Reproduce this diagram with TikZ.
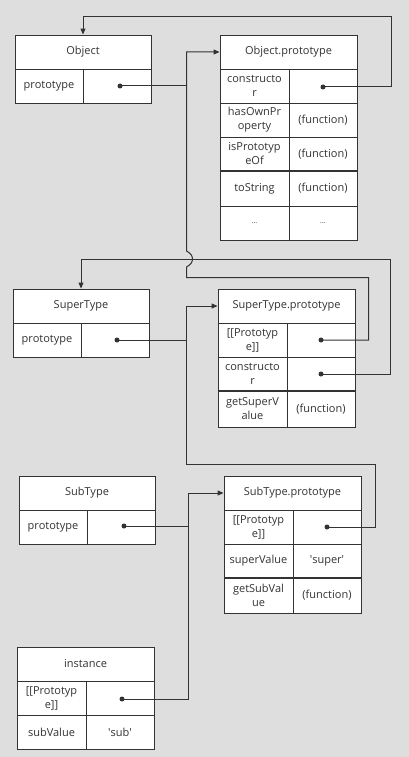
\documentclass[tikz,border=0pt]{standalone}
\usepackage{fontspec}
\setmainfont{Open Sans}
\usetikzlibrary{arrows.meta}
\definecolor{bg}{HTML}{DEDEDE}
\definecolor{ink}{HTML}{333333}
\tikzset{
  cellnode/.style={draw=ink, fill=white, line width=0.9pt, inner sep=1pt, text=ink,
    font=\fontsize{11}{14}\selectfont, align=center},
  dotnode/.style={circle, fill=ink, inner sep=0pt, minimum size=5pt},
  link/.style={draw=ink, line width=1pt},
  arr/.style={link, -{Triangle[length=6pt,width=5pt]}},
  sep/.style={draw=ink, line width=1.6pt},
}
\newcommand\mycell[6]{%
  \pgfmathsetmacro\cw{#4-#2}\pgfmathsetmacro\ch{#5-#3}%
  \pgfmathsetmacro\cx{(#2+#4)/2}\pgfmathsetmacro\cy{(#3+#5)/2}%
  \node[cellnode, minimum width=\cw pt, minimum height=\ch pt] (#1) at (\cx,\cy) {#6};}
\begin{document}
\begin{tikzpicture}[x=1pt,y=-1pt]
\useasboundingbox (0,0) rectangle (409,757);
\fill[bg] (0,0) rectangle (409,757);
% Object
\mycell{o-h}{15}{35}{151}{69}{Object}
\mycell{o-k}{15}{69}{83}{103}{prototype}
\mycell{o-v}{83}{69}{151}{103}{}
% Object.prototype
\mycell{op-h}{220}{35}{357}{69}{Object.prototype}
\mycell{op-k1}{220}{69}{289}{103}{constructo\\r}
\mycell{op-v1}{289}{69}{357}{103}{}
\mycell{op-k2}{220}{103}{289}{137}{hasOwnPr\\operty}
\mycell{op-v2}{289}{103}{357}{137}{(function)}
\mycell{op-k3}{220}{137}{289}{171}{isPrototyp\\eOf}
\mycell{op-v3}{289}{137}{357}{171}{(function)}
\mycell{op-k4}{220}{171}{289}{206}{toString}
\mycell{op-v4}{289}{171}{357}{206}{(function)}
\mycell{op-k5}{220}{206}{289}{240}{\scriptsize ...}
\mycell{op-v5}{289}{206}{357}{240}{\scriptsize ...}
\draw[sep] (op-k4.north west) -- (op-v4.north east);
% SuperType
\mycell{s-h}{13}{289}{149}{323}{SuperType}
\mycell{s-k}{13}{323}{81}{357}{prototype}
\mycell{s-v}{81}{323}{149}{357}{}
% SuperType.prototype
\mycell{sp-h}{218}{289}{355}{323}{SuperType.prototype}
\mycell{sp-k1}{218}{323}{287}{357}{[[Prototyp\\e]]}
\mycell{sp-v1}{287}{323}{355}{357}{}
\mycell{sp-k2}{218}{357}{287}{391}{constructo\\r}
\mycell{sp-v2}{287}{357}{355}{391}{}
\mycell{sp-k3}{218}{391}{287}{427}{getSuperV\\alue}
\mycell{sp-v3}{287}{391}{355}{427}{(function)}
\draw[sep] (sp-k3.north west) -- (sp-v3.north east);
% SubType
\mycell{b-h}{19}{476}{155}{510}{SubType}
\mycell{b-k}{19}{510}{87}{544}{prototype}
\mycell{b-v}{87}{510}{155}{544}{}
% SubType.prototype
\mycell{bp-h}{224}{476}{361}{510}{SubType.prototype}
\mycell{bp-k1}{224}{510}{293}{544}{[[Prototyp\\e]]}
\mycell{bp-v1}{293}{510}{361}{544}{}
\mycell{bp-k2}{224}{544}{293}{578}{superValue}
\mycell{bp-v2}{293}{544}{361}{578}{\textquotesingle super\textquotesingle}
\mycell{bp-k3}{224}{578}{293}{613}{getSubVal\\ue}
\mycell{bp-v3}{293}{578}{361}{613}{(function)}
\draw[sep] (bp-k3.north west) -- (bp-v3.north east);
% instance
\mycell{i-h}{17}{647}{154}{681}{instance}
\mycell{i-k1}{17}{681}{86}{715}{[[Prototyp\\e]]}
\mycell{i-v1}{86}{681}{154}{715}{}
\mycell{i-k2}{17}{715}{86}{749}{subValue}
\mycell{i-v2}{86}{715}{154}{749}{\textquotesingle sub\textquotesingle}
% dots
\node[dotnode] (d-o) at (120,86) {};
\node[dotnode] (d-op) at (323,87) {};
\node[dotnode] (d-sp1) at (321,340) {};
\node[dotnode] (d-sp2) at (321,374) {};
\node[dotnode] (d-s) at (117,340) {};
\node[dotnode] (d-bp) at (327,527) {};
\node[dotnode] (d-b) at (124,526) {};
\node[dotnode] (d-i) at (122,699) {};
% connectors
\draw[arr] (d-op.center) -- (391.5,87) -- (391.5,16.5) -| (o-h.north);
\draw[link] (d-o.center) -- (186.5,86);
\draw[arr] (d-sp1.center) -- (368.5,340) -- (368.5,277.5) -- (186.5,277.5) -- (186.5,267)
  .. controls (194.5,263) and (194.5,255) .. (186.5,251) |- (op-h.west);
\draw[arr] (d-sp2.center) -- (390.5,374) -- (390.5,259.5) -| (s-h.north);
\draw[arr] (d-s.center) -- (186.5,340) |- (sp-h.west);
\draw[link] (d-bp.center) -- (375.5,527) -- (375.5,464.5) -- (186.5,464.5) -- (186.5,340);
\draw[arr] (d-b.center) -- (188.5,526) |- (bp-h.west);
\draw[link] (d-i.center) -- (188.5,699) -- (188.5,526);
\end{tikzpicture}
\end{document}
